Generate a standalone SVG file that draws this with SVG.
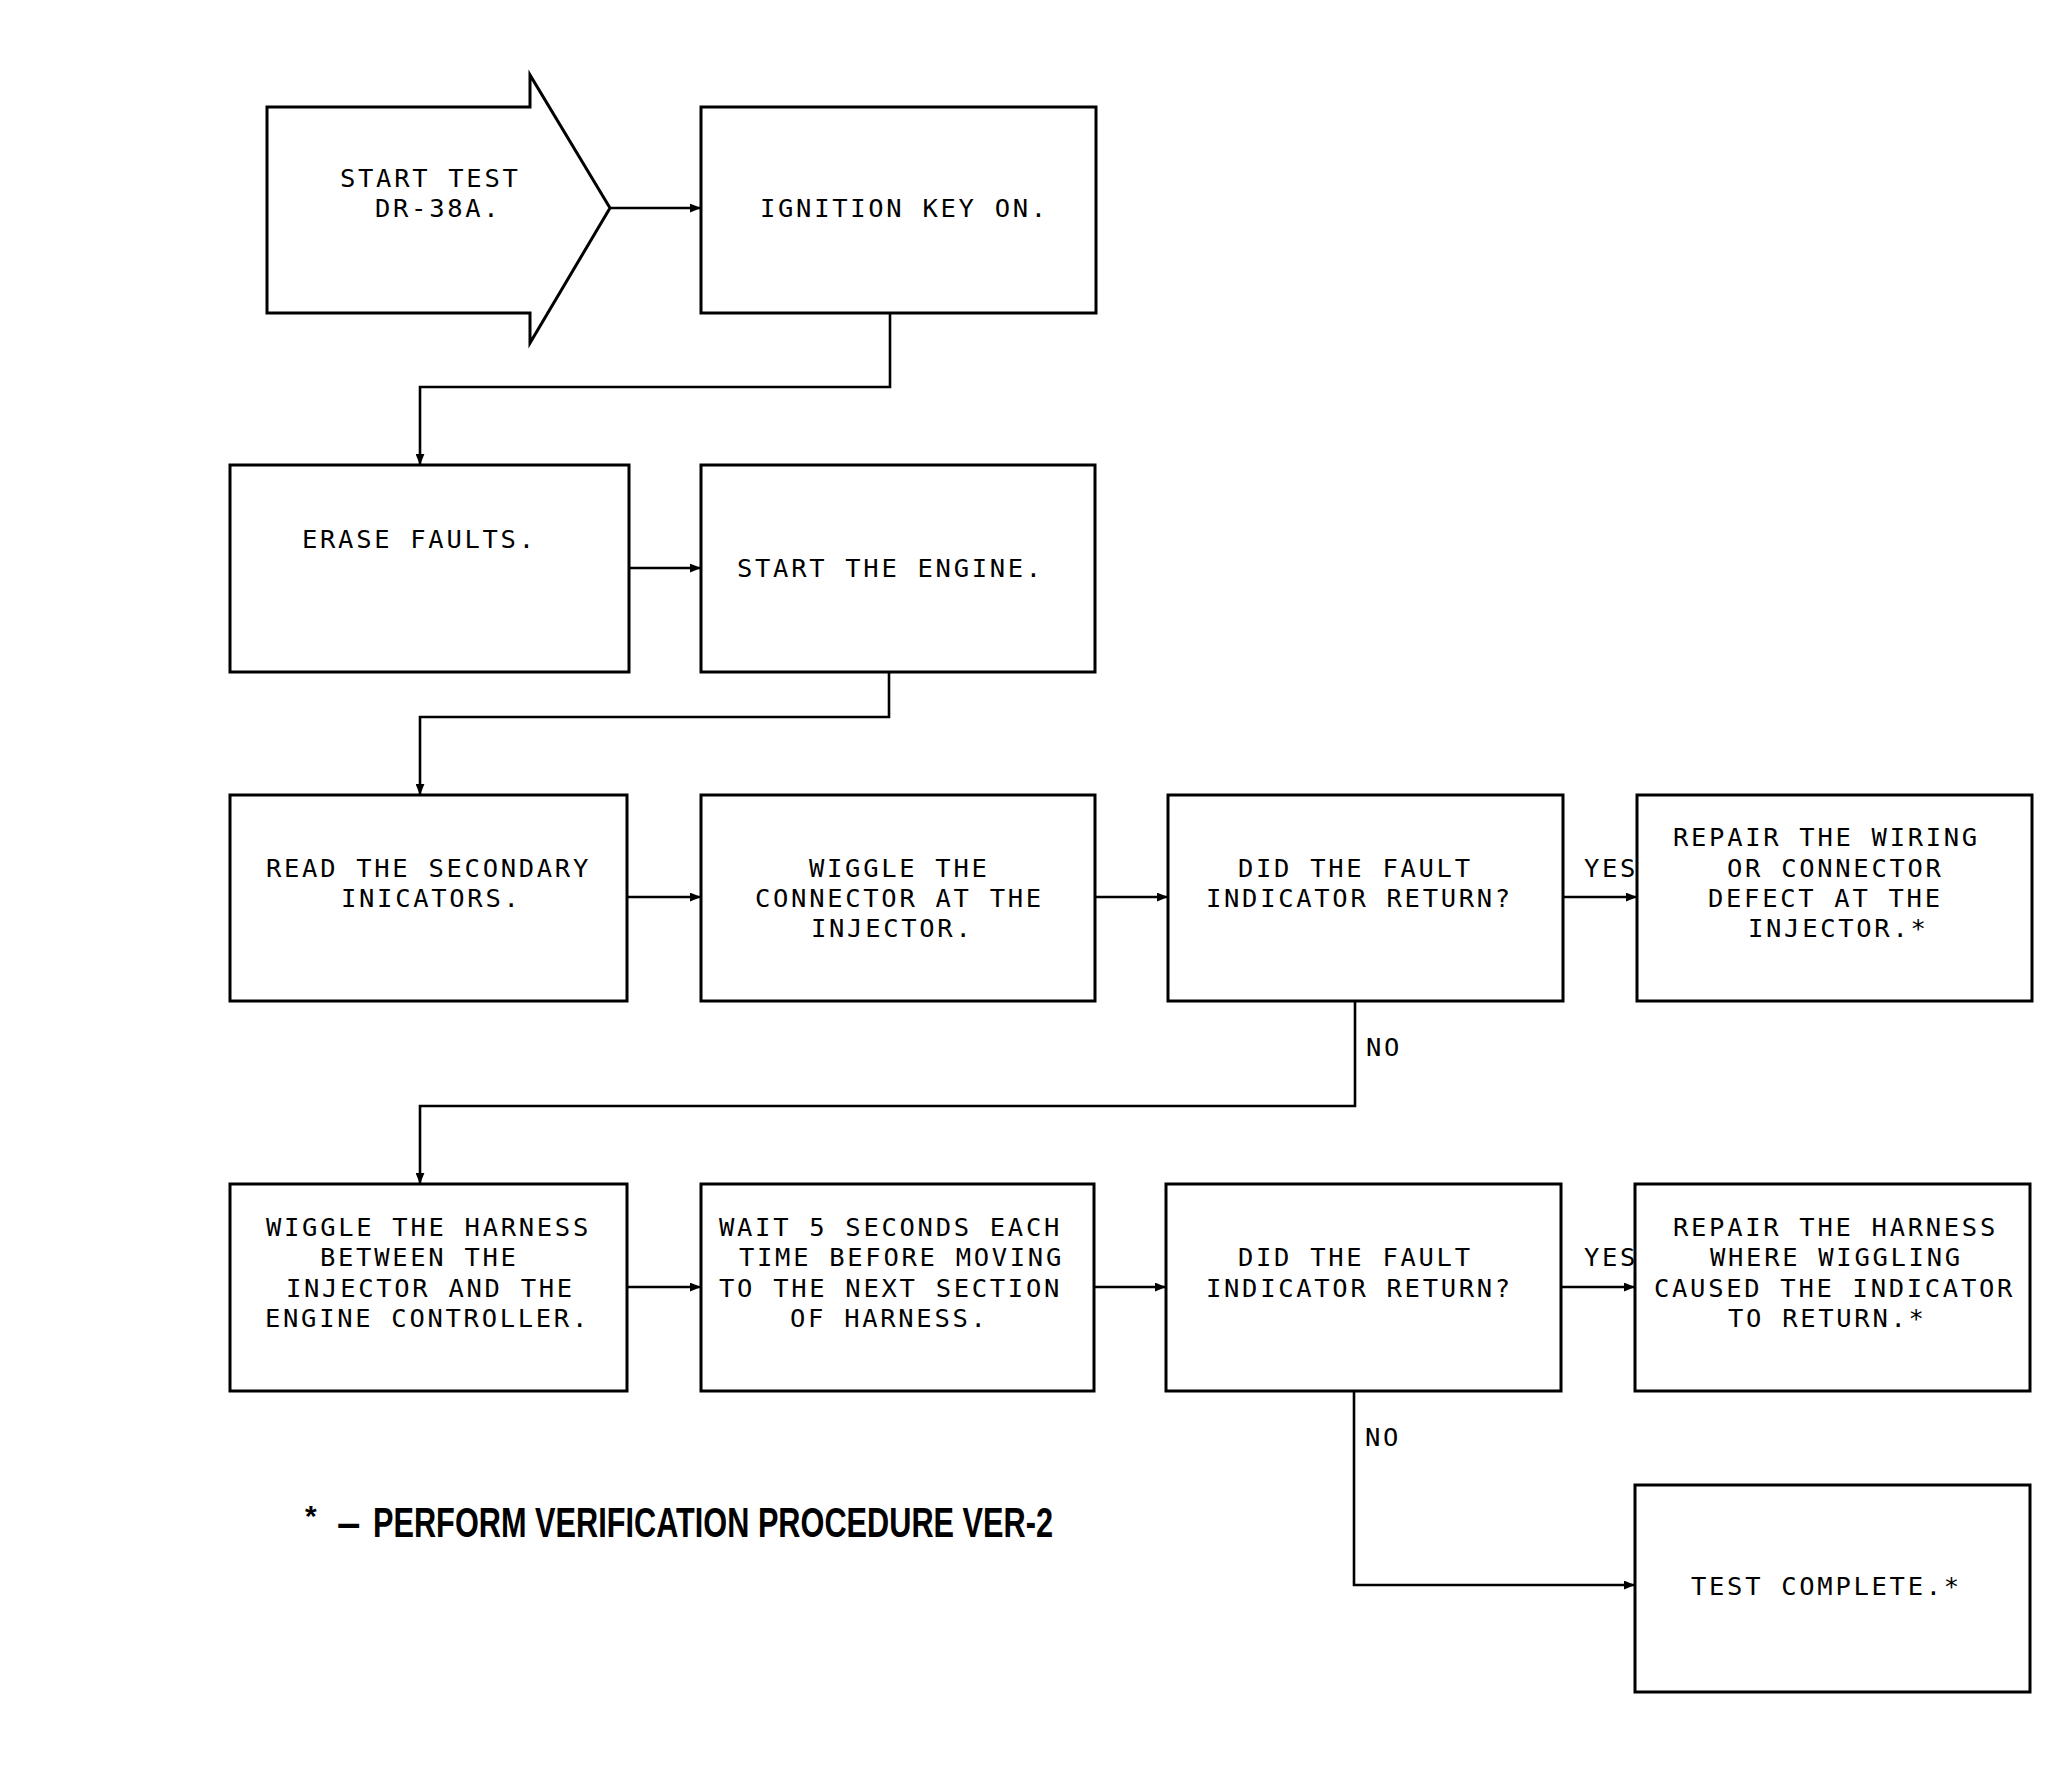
<svg xmlns="http://www.w3.org/2000/svg" width="2072" height="1770" viewBox="0 0 2072 1770">
<defs>
<marker id="ah" viewBox="0 0 10 8" refX="10" refY="4" markerWidth="11" markerHeight="9" markerUnits="userSpaceOnUse" orient="auto">
<path d="M0,0 L10,4 L0,8 Z" fill="#000"/>
</marker>
</defs>
<style>
.box{fill:#fff;stroke:#000;stroke-width:3}
.t{font-family:"DejaVu Sans Mono","Liberation Mono",monospace;font-size:25.5px;letter-spacing:2.7px;fill:#000}
.lbl{font-family:"DejaVu Sans Mono","Liberation Mono",monospace;font-size:25.5px;letter-spacing:2.7px;fill:#000}
.c{fill:none;stroke:#000;stroke-width:2.6;marker-end:url(#ah)}
.fn{font-family:"Liberation Sans",Arial,sans-serif;font-weight:bold;fill:#000}
</style>
<rect width="2072" height="1770" fill="#fff"/>

<g id="connectors">
<path class="c" d="M610,208 H701"/>
<path class="c" d="M890,313 V387 H420 V465"/>
<path class="c" d="M629,568 H701"/>
<path class="c" d="M889,672 V717 H420 V795"/>
<path class="c" d="M627,897 H701"/>
<path class="c" d="M1095,897 H1168"/>
<path class="c" d="M1563,897 H1637"/>
<path class="c" d="M1355,1001 V1106 H420 V1184"/>
<path class="c" d="M627,1287 H701"/>
<path class="c" d="M1094,1287 H1166"/>
<path class="c" d="M1561,1287 H1635"/>
<path class="c" d="M1354,1391 V1585 H1635"/>
<text class="lbl" x="1584" y="877">YES</text>
<text class="lbl" x="1366" y="1056">NO</text>
<text class="lbl" x="1584" y="1266">YES</text>
<text class="lbl" x="1365" y="1446">NO</text>
</g>

<g id="start">
<polygon class="box" points="267,107 530,107 530,75 610,208 530,343 530,313 267,313"/>
<text class="t" x="340" y="187">START TEST</text>
<text class="t" x="375" y="217">DR-38A.</text>
</g>

<g id="ignition">
<rect class="box" x="701" y="107" width="395" height="206"/>
<text class="t" x="760" y="217">IGNITION KEY ON.</text>
</g>

<g id="erase">
<rect class="box" x="230" y="465" width="399" height="207"/>
<text class="t" x="302" y="548">ERASE FAULTS.</text>
</g>

<g id="startengine">
<rect class="box" x="701" y="465" width="394" height="207"/>
<text class="t" x="737" y="577">START THE ENGINE.</text>
</g>

<g id="read">
<rect class="box" x="230" y="795" width="397" height="206"/>
<text class="t" x="266" y="877">READ THE SECONDARY</text>
<text class="t" x="341" y="907">INICATORS.</text>
</g>

<g id="wiggleconnector">
<rect class="box" x="701" y="795" width="394" height="206"/>
<text class="t" x="809" y="877">WIGGLE THE</text>
<text class="t" x="755" y="907">CONNECTOR AT THE</text>
<text class="t" x="811" y="937">INJECTOR.</text>
</g>

<g id="did1">
<rect class="box" x="1168" y="795" width="395" height="206"/>
<text class="t" x="1238" y="877">DID THE FAULT</text>
<text class="t" x="1206" y="907">INDICATOR RETURN?</text>
</g>

<g id="repairwiring">
<rect class="box" x="1637" y="795" width="395" height="206"/>
<text class="t" x="1673" y="846">REPAIR THE WIRING</text>
<text class="t" x="1727" y="877">OR CONNECTOR</text>
<text class="t" x="1708" y="907">DEFECT AT THE</text>
<text class="t" x="1748" y="937">INJECTOR.*</text>
</g>

<g id="wiggleharness">
<rect class="box" x="230" y="1184" width="397" height="207"/>
<text class="t" x="266" y="1236">WIGGLE THE HARNESS</text>
<text class="t" x="320" y="1266">BETWEEN THE</text>
<text class="t" x="286" y="1297">INJECTOR AND THE</text>
<text class="t" x="265" y="1327">ENGINE CONTROLLER.</text>
</g>

<g id="wait">
<rect class="box" x="701" y="1184" width="393" height="207"/>
<text class="t" x="719" y="1236">WAIT 5 SECONDS EACH</text>
<text class="t" x="739" y="1266">TIME BEFORE MOVING</text>
<text class="t" x="719" y="1297">TO THE NEXT SECTION</text>
<text class="t" x="790" y="1327">OF HARNESS.</text>
</g>

<g id="did2">
<rect class="box" x="1166" y="1184" width="395" height="207"/>
<text class="t" x="1238" y="1266">DID THE FAULT</text>
<text class="t" x="1206" y="1297">INDICATOR RETURN?</text>
</g>

<g id="repairharness">
<rect class="box" x="1635" y="1184" width="395" height="207"/>
<text class="t" x="1673" y="1236">REPAIR THE HARNESS</text>
<text class="t" x="1710" y="1266">WHERE WIGGLING</text>
<text class="t" x="1654" y="1297">CAUSED THE INDICATOR</text>
<text class="t" x="1728" y="1327">TO RETURN.*</text>
</g>

<g id="testcomplete">
<rect class="box" x="1635" y="1485" width="395" height="207"/>
<text class="t" x="1691" y="1595">TEST COMPLETE.*</text>
</g>

<g id="footnote">
<text class="fn" x="305" y="1526" font-size="30">*</text>
<text class="fn" x="337" y="1537" font-size="42">–</text>
<text class="fn" x="373" y="1537" font-size="42" textLength="680" lengthAdjust="spacingAndGlyphs">PERFORM VERIFICATION PROCEDURE VER-2</text>
</g>
</svg>
